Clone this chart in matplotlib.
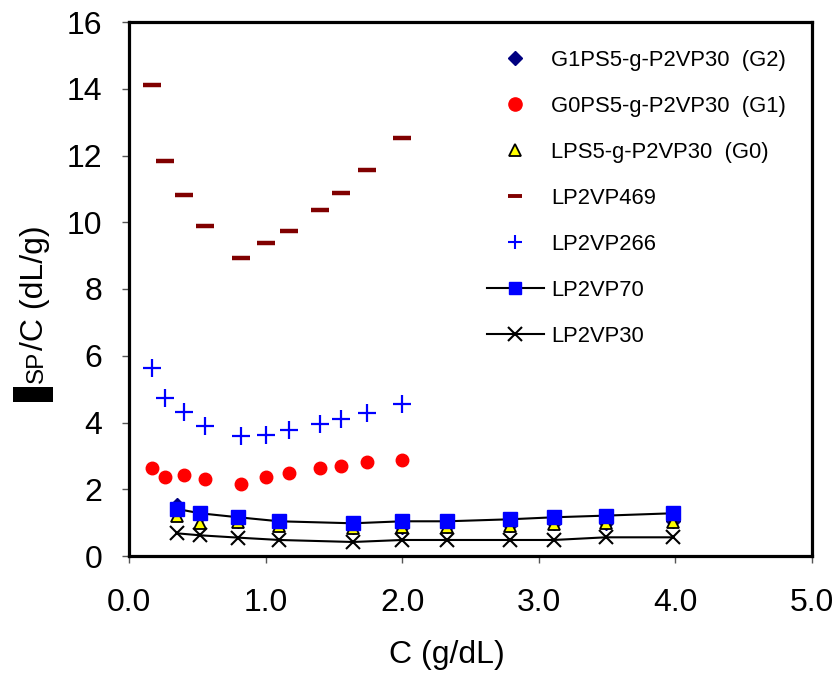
import matplotlib
matplotlib.use("Agg")
import matplotlib.pyplot as plt
from matplotlib.lines import Line2D
from matplotlib.patches import Rectangle

plt.rcParams['font.family'] = ['Liberation Sans', 'DejaVu Sans']

# Concentrations (g/dL)
c_short = [0.17, 0.26, 0.40, 0.555, 0.82, 1.00, 1.17, 1.40, 1.555, 1.74, 2.00]
c_long = [0.35, 0.52, 0.80, 1.10, 1.64, 2.00, 2.33, 2.79, 3.11, 3.49, 3.98]

# Reduced viscosity eta_sp/C (dL/g)
g2_vals = [1.52, 1.20, 1.05, 0.95, 0.88, 0.86, 0.90, 0.92, 0.98, 0.98, 1.04]
g1_vals = [2.63, 2.37, 2.43, 2.30, 2.17, 2.37, 2.49, 2.63, 2.69, 2.81, 2.87]
g0_vals = [1.20, 0.98, 1.02, 0.90, 0.85, 0.86, 0.86, 0.90, 0.95, 0.98, 1.03]
p469_vals = [14.10, 11.83, 10.82, 9.88, 8.93, 9.37, 9.74, 10.38, 10.88, 11.58, 12.51]
p266_vals = [5.62, 4.72, 4.30, 3.90, 3.59, 3.64, 3.77, 3.97, 4.09, 4.28, 4.54]
p70_vals = [1.41, 1.28, 1.16, 1.04, 0.98, 1.04, 1.04, 1.10, 1.16, 1.21, 1.28]
p30_vals = [0.68, 0.62, 0.55, 0.48, 0.42, 0.48, 0.48, 0.48, 0.48, 0.56, 0.56]

labels = ["G1PS5-g-P2VP30  (G2)", "G0PS5-g-P2VP30  (G1)", "LPS5-g-P2VP30  (G0)",
          "LP2VP469", "LP2VP266", "LP2VP70", "LP2VP30"]

x_ticks = [0, 1, 2, 3, 4, 5]
y_ticks = [0, 2, 4, 6, 8, 10, 12, 14, 16]

W, H = 835, 673
fig = plt.figure(figsize=(W / 100, H / 100), dpi=100)
ax = fig.add_axes([129 / W, 1 - 556 / H, (812 - 129) / W, (556 - 22) / H])

ax.plot(c_long, g2_vals, ls='none', marker='D', ms=7, mfc='#000080', mec='#000080')
ax.plot(c_short, g1_vals, ls='none', marker='o', ms=9, mfc='#FF0000', mec='#FF0000')
ax.plot(c_long, g0_vals, ls='none', marker='^', ms=8.5, mfc='#FFFF00', mec='black', mew=1.3)
ax.plot(c_short, p469_vals, ls='none', marker='_', ms=13.5, mec='#800000', mew=3.2)
ax.plot(c_short, p266_vals, ls='none', marker='+', ms=13, mec='#0000FF', mew=1.6)
ax.plot(c_long, p70_vals, color='black', lw=1.5, marker='s', ms=9.5, mfc='#0000FF', mec='#0000FF')
ax.plot(c_long, p30_vals, color='black', lw=1.5, marker='x', ms=9.5, mec='black', mew=1.5)

ax.set_xlim(0, 5)
ax.set_ylim(0, 16)
ax.set_xticks(x_ticks)
ax.set_xticklabels([f"{v:.1f}" for v in x_ticks])
ax.set_yticks(y_ticks)
ax.set_yticklabels([str(v) for v in y_ticks])
for s in ax.spines.values():
    s.set_linewidth(2.3)
ax.tick_params(axis='both', direction='out', length=5, width=1, color='#555555',
               labelsize=23)
ax.tick_params(axis='x', pad=18)
ax.tick_params(axis='y', pad=14)

# legend handles
handles = [
    Line2D([], [], ls='none', marker='D', ms=7, mfc='#000080', mec='#000080'),
    Line2D([], [], ls='none', marker='o', ms=9.5, mfc='#FF0000', mec='#FF0000'),
    Line2D([], [], ls='none', marker='^', ms=9, mfc='#FFFF00', mec='black', mew=1.3),
    Line2D([], [], ls='none', marker='_', ms=10, mec='#800000', mew=2.8),
    Line2D([], [], ls='none', marker='+', ms=10, mec='#0000FF', mew=1.5),
    Line2D([], [], color='black', lw=1.5, marker='s', ms=8.5, mfc='#0000FF', mec='#0000FF'),
    Line2D([], [], color='black', lw=1.5, marker='x', ms=9.5, mec='black', mew=1.5),
]
ax.legend(handles, labels, loc='upper left', bbox_to_anchor=(486.7 / W, 1 - 50 / H),
          bbox_transform=fig.transFigure, frameon=False, borderpad=0, borderaxespad=0,
          handlelength=2.6, handletextpad=0.33, labelspacing=1.14, fontsize=15.8)

# axis titles
fig.text(447 / W, 1 - 655 / H, "C (g/dL)", ha='center', va='center', fontsize=23)
fig.patches.append(Rectangle((13 / W, 1 - 402 / H), 40 / W, 15 / H,
                             transform=fig.transFigure, facecolor='black', edgecolor='none'))
fig.text(43 / W, 1 - 383 / H, "SP", rotation=90, rotation_mode='anchor',
         ha='left', va='baseline', fontsize=17.5)
fig.text(43 / W, 1 - 350 / H, "/C (dL/g)", rotation=90, rotation_mode='anchor',
         ha='left', va='baseline', fontsize=23)

fig.savefig("out.png", dpi=100)
